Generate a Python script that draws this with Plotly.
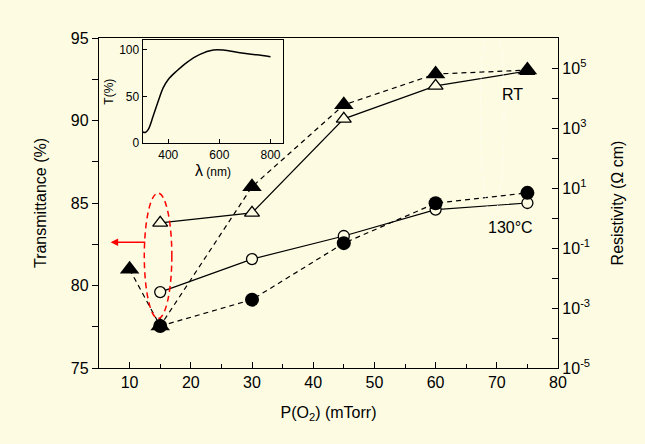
import plotly.graph_objects as go

# ---------------- data ----------------
p_o2_rt_T = [15, 30, 45, 60, 75]
T_rt = [83.8, 84.4, 90.1, 92.1, 93.0]
p_o2_130_T = [15, 30, 45, 60, 75]
T_130 = [79.6, 81.6, 83.0, 84.6, 85.0]

p_o2_rt_R = [10, 15, 30, 45, 60, 75]
R_rt = [0.0195, 2.5e-4, 11.0, 5.9e3, 6.3e4, 8.5e4]
p_o2_130_R = [15, 30, 45, 60, 75]
R_130 = [2.5e-4, 1.9e-3, 0.145, 3.1, 6.9]

inset_lambda = [301, 310, 322, 341, 361, 380, 400, 433, 472, 524, 576, 615, 680, 745, 800]
inset_T = [12, 11.5, 14.9, 29, 45, 59, 68, 77, 86, 94.7, 99.3, 99.3, 96.5, 94.3, 92.2]

right_tickvals = [1e-5, 1e-3, 1e-1, 1e1, 1e3, 1e5]
right_ticktext = ["10<sup>-5</sup>", "10<sup>-3</sup>", "10<sup>-1</sup>",
                  "10<sup>1</sup>", "10<sup>3</sup>", "10<sup>5</sup>"]
right_minor = [1e-4, 1e-2, 1e0, 1e2, 1e4]

BG = "#FDFCE3"
FONT = "Liberation Sans, Arial, sans-serif"

fig = go.Figure()

# transmittance (open symbols, solid lines) - left axis
fig.add_trace(go.Scatter(x=p_o2_rt_T, y=T_rt, mode="lines+markers",
                         line=dict(color="black", width=1.2),
                         marker=dict(symbol="triangle-up", size=13, color=BG,
                                     line=dict(color="black", width=1.3)),
                         xaxis="x", yaxis="y", showlegend=False))
fig.add_trace(go.Scatter(x=p_o2_130_T, y=T_130, mode="lines+markers",
                         line=dict(color="black", width=1.2),
                         marker=dict(symbol="circle", size=11, color=BG,
                                     line=dict(color="black", width=1.3)),
                         xaxis="x", yaxis="y", showlegend=False))

# resistivity (filled symbols, dashed lines) - right axis
fig.add_trace(go.Scatter(x=p_o2_rt_R, y=R_rt, mode="lines+markers",
                         line=dict(color="black", width=1.2, dash="5px,4px"),
                         marker=dict(symbol="triangle-up", size=17, color="black"),
                         xaxis="x", yaxis="y2", showlegend=False))
fig.add_trace(go.Scatter(x=p_o2_130_R, y=R_130, mode="lines+markers",
                         line=dict(color="black", width=1.2, dash="5px,4px"),
                         marker=dict(symbol="circle", size=14, color="black"),
                         xaxis="x", yaxis="y2", showlegend=False))

# inset
fig.add_trace(go.Scatter(x=inset_lambda, y=inset_T, mode="lines",
                         line=dict(color="black", width=1.5, shape="spline"),
                         xaxis="x2", yaxis="y3", showlegend=False))

axis_common = dict(showline=True, linecolor="black", linewidth=1.3,
                   showgrid=False, zeroline=False,
                   tickfont=dict(family=FONT, size=16, color="black"),
                   ticklen=6, tickwidth=1.2, tickcolor="black")

fig.update_layout(
    width=645, height=444,
    paper_bgcolor=BG, plot_bgcolor=BG,
    margin=dict(l=99, r=87, t=38, b=76),
    font=dict(family=FONT, color="black"),
    xaxis=dict(**axis_common, range=[5, 80], tickmode="linear", tick0=10, dtick=10,
               ticks="inside", mirror=True,
               minor=dict(tick0=5, dtick=5, ticks="inside", ticklen=4,
                          tickcolor="black", tickwidth=1.2),
               title=dict(text="P(O<sub>2</sub>) (mTorr)",
                          font=dict(family=FONT, size=16), standoff=16),
               domain=[0, 1]),
    yaxis=dict(**axis_common, range=[75, 95], tickmode="linear", tick0=75, dtick=5,
               ticks="outside",
               minor=dict(tick0=75, dtick=2.5, ticks="outside", ticklen=6,
                          tickcolor="black", tickwidth=1.2),
               title=dict(text="Transmittance (%)",
                          font=dict(family=FONT, size=16), standoff=20)),
    yaxis2=dict(**axis_common, type="log", range=[-5, 6], overlaying="y", side="right",
                tickmode="array", tickvals=right_tickvals, ticktext=right_ticktext,
                ticks="inside",
                minor=dict(tickmode="array", tickvals=right_minor, ticks="inside",
                           ticklen=6, tickcolor="black", tickwidth=1.2),
                title=dict(text="Resistivity (Ω cm)",
                           font=dict(family=FONT, size=16), standoff=22)),
    xaxis2=dict(showline=True, linecolor="black", linewidth=1.2, mirror=True,
                showgrid=False, zeroline=False, range=[300, 850],
                domain=[0.0952, 0.4015], anchor="y3",
                tickvals=[400, 600, 800], ticks="inside", ticklen=4,
                tickcolor="black", tickfont=dict(family=FONT, size=12, color="black"),
                title=dict(text="<span style='font-size:16px'>λ</span> (nm)",
                           font=dict(family=FONT, size=12), standoff=6)),
    yaxis3=dict(showline=True, linecolor="black", linewidth=1.2, mirror=True,
                showgrid=False, zeroline=False, range=[0, 110],
                domain=[0.681, 0.9939], anchor="x2",
                tickvals=[0, 50, 100], ticks="inside", ticklen=4,
                tickcolor="black", tickfont=dict(family=FONT, size=12, color="black"),
                title=dict(text="T(%)", font=dict(family=FONT, size=12), standoff=2)),
)

# red dashed ellipse around the x=15 transmittance points
fig.add_shape(type="circle", xref="x", yref="y", x0=12.4, x1=16.9, y0=78.0, y1=85.6,
              line=dict(color="red", width=1.5, dash="6px,4px"))
# faint white dashed ellipse near RT points
fig.add_shape(type="circle", xref="x", yref="y", x0=67.3, x1=71.2, y0=84.2, y1=96.5,
              line=dict(color="white", width=1.0, dash="6px,4px"), opacity=0.6)

# red arrow pointing to the left axis
fig.add_annotation(x=6.9, y=82.62, ax=12.8, ay=82.62, xref="x", yref="y",
                   axref="x", ayref="y", text="", showarrow=True,
                   arrowhead=2, arrowsize=1, arrowwidth=1.5, arrowcolor="red")

fig.add_annotation(x=72.6, y=91.6, xref="x", yref="y", text="RT", showarrow=False,
                   font=dict(family=FONT, size=16, color="black"))
fig.add_annotation(x=72.2, y=83.5, xref="x", yref="y", text="130°C", showarrow=False,
                   font=dict(family=FONT, size=16, color="black"))

fig.write_html(
    "out.html",
    config={"displayModeBar": False},
    post_script=("document.body.style.margin='0';"
                 "document.body.style.backgroundColor='" + BG + "';"),
)
